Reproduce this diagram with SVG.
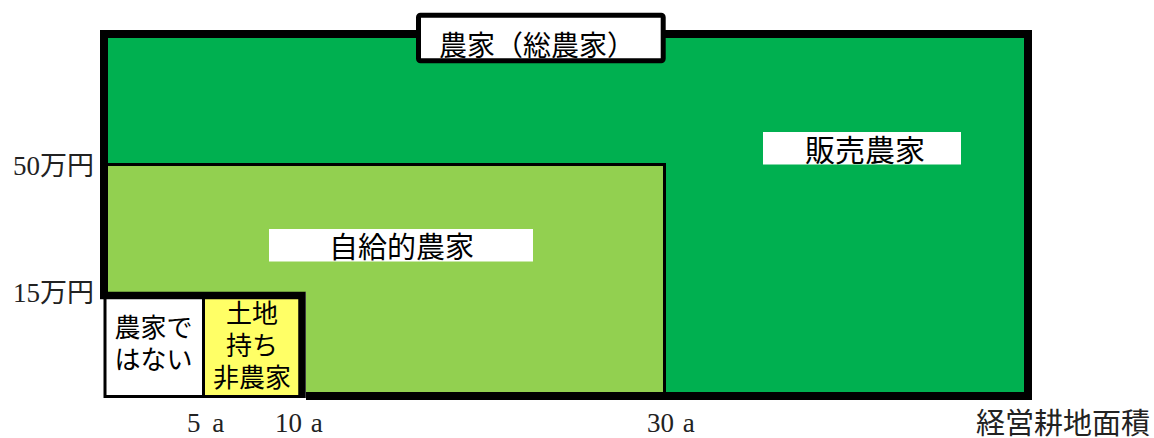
<svg xmlns="http://www.w3.org/2000/svg" width="1154" height="438" viewBox="0 0 1154 438">
<style>
.lbl{font-family:"Noto Sans CJK JP","Noto Sans",sans-serif;fill:#000;text-anchor:middle;dominant-baseline:central}
.sm{font-size:26px;font-family:"Liberation Sans","Noto Sans CJK JP",sans-serif}
.ax{font-family:"Liberation Serif","Noto Sans CJK JP",serif;fill:#222;font-size:27px;dominant-baseline:central}
.bk{stroke:#000;fill:none}
</style>
<rect width="1154" height="438" fill="#fff"/>
<g id="total">
<rect x="104" y="34" width="924" height="362" fill="#00B050"/>
</g>
<g id="hanbai">
<rect x="763" y="132" width="198" height="32.5" fill="#fff"/>
<text class="lbl" x="865" y="148" font-size="30">販売農家</text>
</g>
<g id="jikyu">
<rect x="104" y="164.5" width="560.5" height="232" fill="#92D050" stroke="#000" stroke-width="3"/>
<rect x="269" y="229" width="264" height="32.5" fill="#fff"/>
<text class="lbl" x="401.5" y="244.5" font-size="29">自給的農家</text>
</g>
<g id="outer">
<rect class="bk" x="104" y="34" width="924" height="362" stroke-width="8"/>
</g>
<g id="nonfarm">
<rect x="100" y="292" width="206" height="109" fill="#fff"/>
<rect x="105" y="295.5" width="98.5" height="101" fill="#fff" stroke="#000" stroke-width="3"/>
<text class="lbl sm"><tspan x="153.5" y="328">農家で</tspan><tspan x="153.5" y="360">はない</tspan></text>
</g>
<g id="landowner">
<rect x="203.5" y="295.5" width="98.5" height="101" fill="#FFFF66" stroke="#000" stroke-width="3"/>
<text class="lbl sm"><tspan x="252" y="313.5">土地</tspan><tspan x="252" y="346">持ち</tspan><tspan x="252" y="378">非農家</tspan></text>
</g>
<g id="connectors">
<polyline class="bk" points="100,295.5 302,295.5 302,398" stroke-width="7.5"/>
</g>
<g id="title">
<rect x="418.5" y="15.2" width="244.7" height="45.6" rx="2" fill="#fff" stroke="#000" stroke-width="5"/>
<text class="lbl" x="537" y="43.5" font-size="28">農家（総農家）</text>
</g>
<g id="axes">
<text class="ax" x="94" y="166" text-anchor="end">50万円</text>
<text class="ax" x="94" y="293" text-anchor="end">15万円</text>
<text class="ax" x="187" y="423" xml:space="preserve" word-spacing="5">5 a</text>
<text class="ax" x="275" y="423" xml:space="preserve" word-spacing="2">10 a</text>
<text class="ax" x="647" y="423" xml:space="preserve" word-spacing="2">30 a</text>
<text class="ax" x="976" y="424" style="font-size:29px">経営耕地面積</text>
</g>
</svg>
